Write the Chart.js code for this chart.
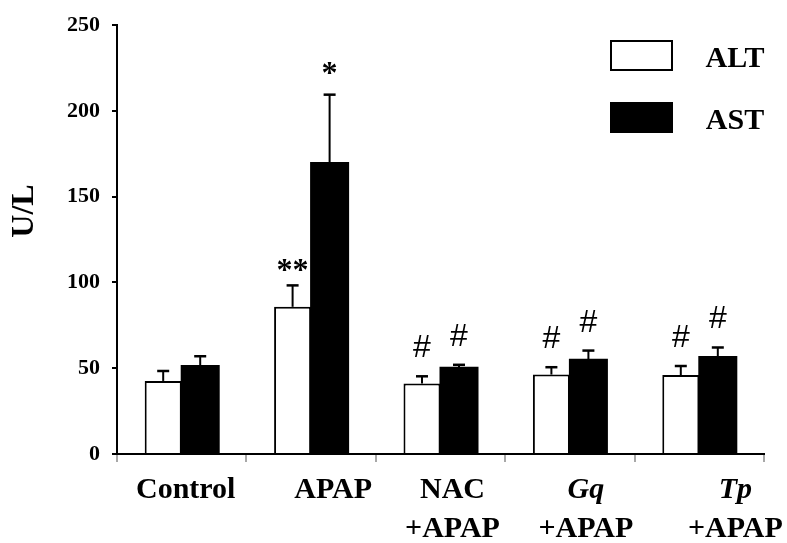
<!DOCTYPE html>
<html>
<head>
<meta charset="utf-8">
<script src="https://cdn.jsdelivr.net/npm/chart.js@4/dist/chart.umd.min.js"></script>
<style>
  html, body { margin: 0; padding: 0; background: #fff; }
  #wrap { width: 787px; height: 543px; position: relative; }
</style>
</head>
<body>
<div id="wrap"><canvas id="chart"></canvas></div>
<script>
// data
const categories = [['Control'], ['APAP'], ['NAC', '+APAP'], ['Gq', '+APAP'], ['Tp', '+APAP']];
const italicFirstLine = [false, false, false, true, true];
const altValues = [42.6, 85.8, 41.1, 46.3, 46.0];
const altErrors = [5.8, 12.5, 4.2, 4.3, 5.3];
const astValues = [51.3, 169.7, 50.3, 54.9, 56.5];
const astErrors = [5.7, 39.8, 1.7, 5.4, 5.6];
const yTicks = [0, 50, 100, 150, 200, 250];
// significance marks: [dataset, category, text]
const sigMarks = [
  [0, 1, '**'], [1, 1, '*'],
  [0, 2, '#'], [1, 2, '#'],
  [0, 3, '#'], [1, 3, '#'],
  [0, 4, '#'], [1, 4, '#'],
];

const SERIF = "'Liberation Serif', 'Times New Roman', serif";
const SANS = "'Liberation Sans', Arial, sans-serif";
// small horizontal nudges of the category labels, as in the figure
const labelShift = [4, 22, 12, 16, 36];

const errorBars = {
  id: 'errorBars',
  afterDatasetsDraw(chart) {
    const { ctx } = chart;
    const y = chart.scales.y;
    ctx.save();
    ctx.strokeStyle = '#000';
    chart.data.datasets.forEach((ds, di) => {
      chart.getDatasetMeta(di).data.forEach((bar, i) => {
        const top = y.getPixelForValue(ds.data[i] + ds.errors[i]);
        ctx.lineWidth = 2;
        ctx.beginPath();
        ctx.moveTo(bar.x, bar.y);
        ctx.lineTo(bar.x, top);
        ctx.stroke();
        ctx.lineWidth = 2.5;
        ctx.beginPath();
        ctx.moveTo(bar.x - 6, top);
        ctx.lineTo(bar.x + 6, top);
        ctx.stroke();
      });
    });

    // * and # above the error bars
    ctx.fillStyle = '#000';
    ctx.textAlign = 'center';
    ctx.textBaseline = 'alphabetic';
    sigMarks.forEach(([di, i, txt]) => {
      const ds = chart.data.datasets[di];
      const bar = chart.getDatasetMeta(di).data[i];
      const top = y.getPixelForValue(ds.data[i] + ds.errors[i]);
      if (txt === '#') {
        ctx.font = `32px ${SANS}`;
        ctx.fillText(txt, bar.x, top - 19);
      } else {
        ctx.font = `bold 32px ${SERIF}`;
        ctx.fillText(txt, bar.x, top - (txt === '*' ? 12 : 5));
      }
    });
    ctx.restore();
  },
};

const textLayer = {
  id: 'textLayer',
  afterDraw(chart) {
    const { ctx } = chart;
    const x = chart.scales.x;
    ctx.save();
    ctx.fillStyle = '#000';
    ctx.textAlign = 'center';
    ctx.textBaseline = 'alphabetic';

    // category labels
    categories.forEach((lines, i) => {
      const cx = x.getPixelForValue(i) + labelShift[i];
      lines.forEach((line, li) => {
        const italic = li === 0 && italicFirstLine[i] ? 'italic ' : '';
        ctx.font = `${italic}bold 30px ${SERIF}`;
        ctx.fillText(line, cx, x.top + 44 + li * 39);
      });
    });

    // y axis title
    ctx.save();
    ctx.translate(33, 211);
    ctx.rotate(-Math.PI / 2);
    ctx.font = `bold 32px ${SERIF}`;
    ctx.fillText('U/L', 0, 0);
    ctx.restore();

    // legend
    chart.data.datasets.forEach((ds, di) => {
      const top = 41 + di * 62;
      ctx.fillStyle = ds.backgroundColor;
      ctx.fillRect(611, top, 61, 29);
      ctx.strokeStyle = '#000';
      ctx.lineWidth = 2;
      ctx.strokeRect(611, top, 61, 29);
      ctx.fillStyle = '#000';
      ctx.font = `bold 30px ${SERIF}`;
      ctx.fillText(ds.label, 735, top + 26);
    });
    ctx.restore();
  },
};

new Chart(document.getElementById('chart'), {
  type: 'bar',
  data: {
    labels: categories.map(c => c.join(' ')),
    datasets: [
      {
        label: 'ALT',
        data: altValues,
        errors: altErrors,
        backgroundColor: '#ffffff',
        borderColor: '#000000',
        borderWidth: 2,
      },
      {
        label: 'AST',
        data: astValues,
        errors: astErrors,
        backgroundColor: '#000000',
        borderWidth: 0,
        inflateAmount: 1,
      },
    ],
  },
  options: {
    responsive: true,
    maintainAspectRatio: false,
    animation: false,
    layout: { padding: { top: 19, right: 23, left: 0, bottom: 0 } },
    datasets: { bar: { categoryPercentage: 0.572, barPercentage: 1 } },
    plugins: { legend: { display: false }, tooltip: { enabled: false } },
    scales: {
      x: {
        grid: { display: true, drawOnChartArea: false, drawTicks: true, tickLength: 8, color: '#a8a8a8', lineWidth: 2 },
        border: { display: true, color: '#000', width: 2 },
        ticks: { display: false },
        afterFit: s => { s.height = 89; },
      },
      y: {
        min: 0,
        max: 250,
        afterBuildTicks: s => { s.ticks = yTicks.map(v => ({ value: v })); },
        grid: { display: true, drawOnChartArea: false, drawTicks: true, tickLength: 5, color: '#000', lineWidth: 2 },
        border: { display: true, color: '#000', width: 2 },
        ticks: { color: '#000', padding: 12, font: { family: SERIF, size: 22, weight: 'bold' } },
        afterFit: s => { s.width = 117; },
      },
    },
  },
  plugins: [errorBars, textLayer],
});
</script>
</body>
</html>
